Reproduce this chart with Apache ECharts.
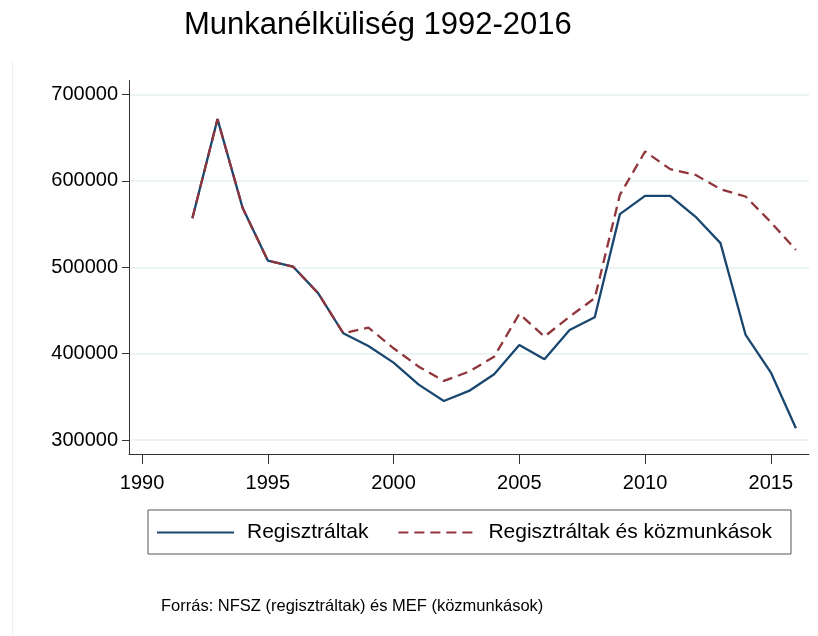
<!DOCTYPE html>
<html>
<head>
<meta charset="utf-8">
<title>Munkanélküliség 1992-2016</title>
<script src="https://cdn.jsdelivr.net/npm/echarts@6/dist/echarts.min.js"></script>
<style>
  html, body { margin: 0; padding: 0; background: #fff; }
  #chart { width: 818px; height: 636px; }
</style>
</head>
<body>
<div id="chart"></div>
<script>
var years = [1992, 1993, 1994, 1995, 1996, 1997, 1998, 1999, 2000, 2001, 2002, 2003, 2004,
  2005, 2006, 2007, 2008, 2009, 2010, 2011, 2012, 2013, 2014, 2015, 2016];
var regisztraltak = [556800, 671500, 568500, 507700, 500800, 470000, 423600, 408900, 389600,
  364100, 345200, 356800, 376100, 410100, 393500, 427400, 442200, 561500, 582700, 582700,
  558700, 527900, 421600, 378400, 313600];
var kozmunkasokkal = [556800, 671500, 568500, 507700, 500800, 470000, 423600, 430100, 406200,
  384900, 368400, 379100, 396500, 446000, 419700, 442800, 464200, 583800, 634000, 613600,
  607000, 590400, 581900, 552200, 520100];
var xTicks = [1990, 1995, 2000, 2005, 2010, 2015];
var yTicks = [300000, 400000, 500000, 600000, 700000];

function pairs(vals) {
  var out = [];
  for (var i = 0; i < years.length; i++) {
    out.push([years[i], vals[i]]);
  }
  return out;
}

var font = 'Liberation Sans, Arial, sans-serif';
var chart = echarts.init(document.getElementById('chart'));
var option = {
  backgroundColor: '#fff',
  animation: false,
  title: {
    text: 'Munkanélküliség 1992-2016',
    left: 179,
    top: 5,
    textStyle: { fontFamily: font, fontSize: 31, fontWeight: 'normal', color: '#000' }
  },
  grid: { left: 129, right: 9, top: 80.5, bottom: 182, containLabel: false },
  xAxis: {
    type: 'value',
    min: 1989.48,
    max: 2016.52,
    axisLine: { show: true, lineStyle: { color: '#333', width: 1 } },
    axisTick: { show: true, length: 10, customValues: xTicks, lineStyle: { color: '#333' } },
    axisLabel: {
      customValues: xTicks,
      margin: 19,
      fontFamily: font, fontSize: 20, color: '#000',
      formatter: function (v) { return String(v); }
    },
    splitLine: { show: false }
  },
  yAxis: {
    type: 'value',
    min: 283780,
    max: 716220,
    axisLine: { show: true, lineStyle: { color: '#333', width: 1 } },
    axisTick: { show: true, length: 7, customValues: yTicks, lineStyle: { color: '#333' } },
    axisLabel: {
      customValues: yTicks,
      margin: 11,
      fontFamily: font, fontSize: 20, color: '#000',
      formatter: function (v) { return String(v); }
    },
    splitLine: { show: true, lineStyle: { color: '#e6eff1', width: 1.5 } }
  },
  legend: {
    left: 148,
    top: 510,
    itemWidth: 77,
    itemHeight: 14,
    itemGap: 29,
    padding: [12, 19, 11, 8],
    borderColor: '#555',
    borderWidth: 1,
    itemStyle: { opacity: 0 },
    textStyle: { fontFamily: font, fontSize: 21, color: '#000', padding: [0, 0, 0, 8] },
    data: ['Regisztráltak', 'Regisztráltak és közmunkások']
  },
  series: [
    {
      name: 'Regisztráltak',
      type: 'line',
      symbol: 'none',
      data: pairs(regisztraltak),
      lineStyle: { color: '#1a476f', width: 2.3 },
      itemStyle: { color: '#1a476f' }
    },
    {
      name: 'Regisztráltak és közmunkások',
      type: 'line',
      symbol: 'none',
      data: pairs(kozmunkasokkal),
      lineStyle: { color: '#90353b', width: 2.3, type: [10, 6] },
      itemStyle: { color: '#90353b' }
    }
  ],
  graphic: [
    {
      type: 'line',
      shape: { x1: 12.5, y1: 62, x2: 12.5, y2: 636 },
      style: { stroke: '#e8f0f2', lineWidth: 1 }
    },
    {
      type: 'text',
      left: 161,
      top: 598,
      style: {
        text: 'Forrás: NFSZ (regisztráltak) és MEF (közmunkások)',
        font: '16.5px Liberation Sans, Arial, sans-serif',
        fill: '#000'
      }
    }
  ]
};
chart.setOption(option);
</script>
</body>
</html>
